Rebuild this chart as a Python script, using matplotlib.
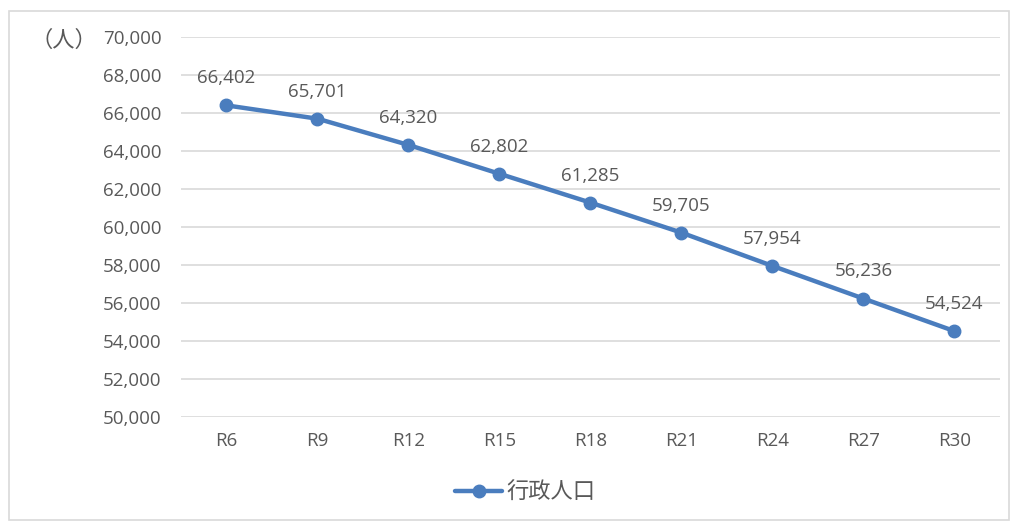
import matplotlib.pyplot as plt
from matplotlib.patches import Rectangle

plt.rcParams['font.family'] = ['Open Sans', 'Noto Sans CJK JP', 'DejaVu Sans']

years = ['R6', 'R9', 'R12', 'R15', 'R18', 'R21', 'R24', 'R27', 'R30']
population = [66402, 65701, 64320, 62802, 61285, 59705, 57954, 56236, 54524]
y_ticks = list(range(50000, 70001, 2000))

text_color = '#595959'
line_color = '#4a7dbe'

fig = plt.figure(figsize=(10.14, 5.22), dpi=100)
ax = fig.add_axes([0.1785, 0.2011, 0.8075, 0.728])

x = range(len(years))
line, = ax.plot(x, population, color=line_color, lw=3.2, marker='o', ms=9,
                solid_capstyle='round', label='行政人口', zorder=3)

for xi, v in zip(x, population):
    ax.annotate(f'{v:,}', (xi, v), xytext=(0, 13), textcoords='offset points',
                ha='center', va='bottom', fontsize=13.5, color=text_color)

ax.set_xlim(-0.5, len(years) - 0.5)
ax.set_ylim(50000, 70000)
ax.set_yticks(y_ticks)
ax.set_yticklabels([f'{t:,}' for t in y_ticks])
ax.set_xticks(list(x))
ax.set_xticklabels(years)
ax.tick_params(length=0, labelsize=13.5, labelcolor=text_color)
ax.tick_params(axis='y', pad=14)
ax.tick_params(axis='x', pad=11)
ax.grid(axis='y', color='#d9d9d9', lw=1.2)
ax.set_axisbelow(True)
for s in ax.spines.values():
    s.set_visible(False)

fig.text(0.063, 0.922, '（人）', fontsize=16, color=text_color,
         ha='center', va='center', family=['Noto Sans CJK JP', 'DejaVu Sans'])

leg = fig.legend(handles=[line], loc='center', bbox_to_anchor=(0.518, 0.057),
                 frameon=False, handlelength=2.1, handletextpad=0.2,
                 prop={'family': ['Noto Sans CJK JP'], 'size': 16})
for t in leg.get_texts():
    t.set_color(text_color)

fig.patches.append(Rectangle((0.009, 0.004), 0.986, 0.975, transform=fig.transFigure,
                             fill=False, edgecolor='#d9d9d9', lw=1.2))

fig.savefig('out.png', dpi=100)
